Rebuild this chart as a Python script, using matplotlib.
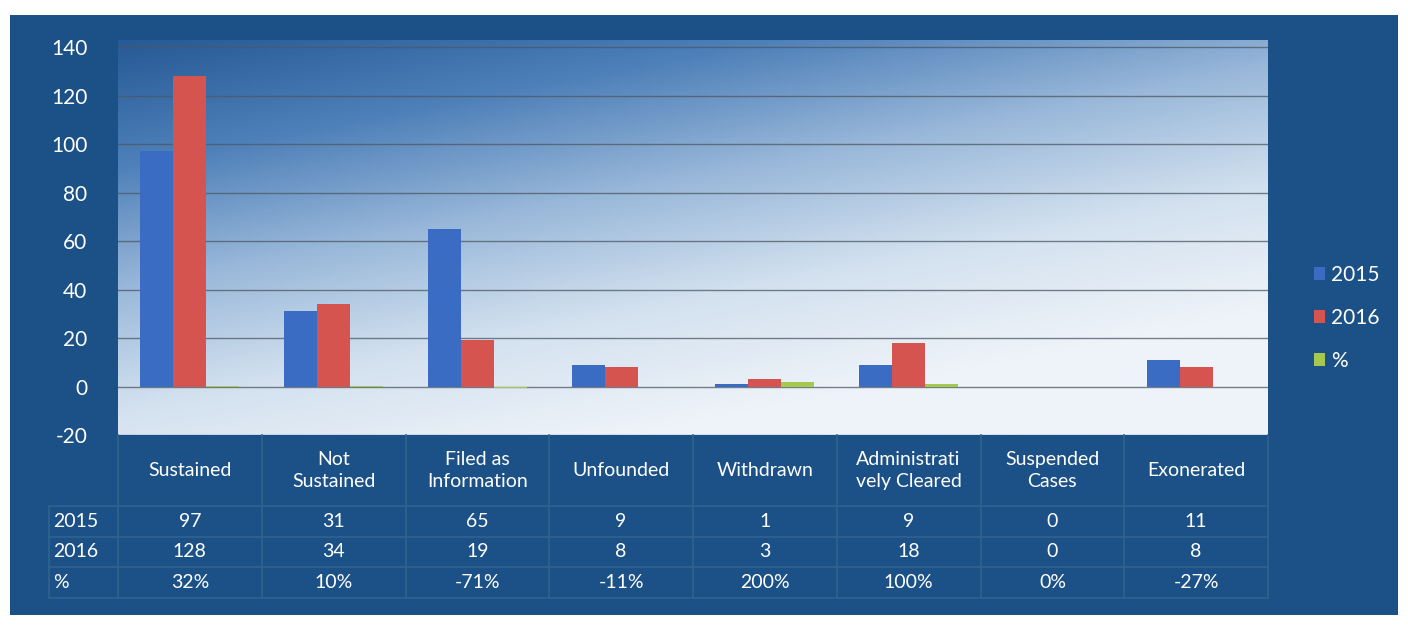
import numpy as np
import matplotlib
matplotlib.use('Agg')
import matplotlib.pyplot as plt
from matplotlib.colors import LinearSegmentedColormap
from matplotlib.patches import Rectangle

#################################################
#            Data
#################################################
categories = ['Sustained', 'Not\nSustained', 'Filed as\nInformation', 'Unfounded',
              'Withdrawn', 'Administrati\nvely Cleared', 'Suspended\nCases', 'Exonerated']
vals_2015 = [97, 31, 65, 9, 1, 9, 0, 11]
vals_2016 = [128, 34, 19, 8, 3, 18, 0, 8]
pct_change = [32, 10, -71, -11, 200, 100, 0, -27]
series_names = ['2015', '2016', '%']
yticks = [-20, 0, 20, 40, 60, 80, 100, 120, 140]

#################################################
#            Styles
#################################################
plt.rcParams['font.family'] = ['Lato', 'DejaVu Sans']
plt.rcParams['axes.unicode_minus'] = False
bg = '#1c5187'
c2015 = '#3b6cc3'
c2016 = '#d5544f'
cpct = '#a4c94e'
W, H = 1408, 630

fig = plt.figure(figsize=(W / 100, H / 100), dpi=100, facecolor='white')
fig.patches.append(Rectangle((10 / W, 1 - 615 / H), 1388 / W, 600 / H,
                             transform=fig.transFigure, facecolor=bg,
                             edgecolor='none', zorder=-10))

ax = fig.add_axes([118 / W, 1 - 435 / H, 1150 / W, 395 / H])
ax.set_xlim(-0.5, 7.5)

# gradient background of plot area (dark top-left -> light bottom-right)
gx, gy = np.meshgrid(np.linspace(0, 1, 300), np.linspace(0, 1, 200))
t = np.clip(0.8 * gy + 0.45 * gx, 0, 1)
cmap = LinearSegmentedColormap.from_list('bgrad', ['#275a96', '#4d7fb8', '#98b7d9',
                                                   '#d3e1ef', '#eef3f9'])
ax.imshow(t, cmap=cmap, extent=(-0.5, 7.5, -20, 143), origin='upper',
          aspect='auto', zorder=0)
ax.set_ylim(-20, 143)

for yv in yticks:
    ax.axhline(yv, color='#4d5863', lw=1.0, alpha=0.75, zorder=1)

x = np.arange(len(categories))
w = 0.23
ax.bar(x - w, vals_2015, w, color=c2015, zorder=2, label=series_names[0])
ax.bar(x, vals_2016, w, color=c2016, zorder=2, label=series_names[1])
ax.bar(x + w, np.array(pct_change) / 100, w, color=cpct, zorder=2, label=series_names[2])

ax.set_yticks(yticks)
ax.set_xticks([])
ax.tick_params(axis='y', length=0, pad=22, labelsize=15, labelcolor='white')
for s in ax.spines.values():
    s.set_visible(False)

# data table under the chart
row_y = [-0.219, -0.296, -0.374]
line_y = [-0.160, -0.180, -0.258, -0.335, -0.412]
tx = ax.get_xaxis_transform()
for i, cat in enumerate(categories):
    ax.text(i, -0.09, cat, transform=tx, ha='center', va='center', color='white',
            fontsize=14, linespacing=1.35, clip_on=False)
    for ry, vals in zip(row_y, [vals_2015, vals_2016]):
        ax.text(i, ry, str(vals[i]), transform=tx, ha='center', va='center',
                color='white', fontsize=14, clip_on=False)
    ax.text(i, row_y[2], '%d%%' % pct_change[i], transform=tx, ha='center',
            va='center', color='white', fontsize=14, clip_on=False)

row_labels = ['2015', '2016', '%']
for ry, lab in zip(row_y, row_labels):
    ax.text(-0.95, ry, lab, transform=tx, ha='left', va='center', color='white',
            fontsize=14, clip_on=False)

xl = -0.98
for ly in line_y[1:]:
    ax.plot([xl, 7.5], [ly, ly], transform=tx, color='#31628f', lw=1.2, clip_on=False)
for b in np.arange(-0.5, 8.0, 1.0):
    ax.plot([b, b], [0, line_y[-1]], transform=tx, color='#31628f', lw=1.2, clip_on=False)
ax.plot([xl, xl], [line_y[1], line_y[-1]], transform=tx, color='#31628f', lw=1.2,
        clip_on=False)

# legend
handles, labels = ax.get_legend_handles_labels()
leg = fig.legend(handles, labels, loc='center left', bbox_to_anchor=(1295 / W, 1 - 318 / H),
                 frameon=False, fontsize=15, labelcolor='white', handlelength=0.55,
                 handleheight=0.55, handletextpad=0.3, labelspacing=1.1)

fig.savefig('out.png', dpi=100, facecolor='white')
